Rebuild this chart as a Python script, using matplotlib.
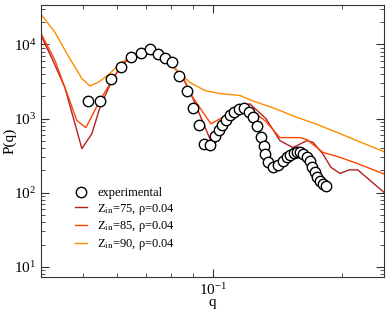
import matplotlib
matplotlib.use("Agg")
import matplotlib.pyplot as plt
from matplotlib.ticker import LogLocator, NullFormatter, LogFormatterSciNotation

plt.rcParams['font.family'] = ['Liberation Serif', 'DejaVu Serif']
plt.rcParams['mathtext.fontset'] = 'stix'

# experimental data
q_exp = [0.05145, 0.0547, 0.0580, 0.0612, 0.0646, 0.0681, 0.0715, 0.0746, 0.0774, 0.0804,
         0.0837, 0.0871, 0.0900, 0.0929, 0.0955, 0.0986, 0.1012, 0.1032, 0.1051, 0.1074,
         0.1097, 0.1121, 0.1151, 0.1182, 0.1215, 0.1241, 0.1268, 0.1299, 0.1316, 0.1327,
         0.1348, 0.1381, 0.1419, 0.1457, 0.1489, 0.1513, 0.1542, 0.1571, 0.1596, 0.1626,
         0.1653, 0.1684, 0.1706, 0.1729, 0.1753, 0.1776, 0.1805, 0.1834]
p_exp = [1751, 1751, 3419, 4966, 6673, 7557, 8557, 7325, 6570, 5712,
         3694, 2389, 1408, 830, 459, 438, 589, 710, 830, 969,
         1115, 1243, 1344, 1386, 1243, 1048, 804, 562, 432, 336,
         262, 225, 235, 270, 300, 325, 343, 355, 350, 331,
         302, 267, 225, 189, 162, 143, 130, 124]

# Z_in = 75
q_75 = [0.0399, 0.04252, 0.04534, 0.04966, 0.0524, 0.05469, 0.05831, 0.06154, 0.0649, 0.06963,
        0.07422, 0.07955, 0.0853, 0.0900, 0.10043, 0.10567, 0.1139, 0.12209, 0.13304, 0.14339,
        0.15374, 0.16569, 0.1711, 0.18049, 0.18838, 0.1977, 0.20749, 0.2176, 0.23339, 0.25028]
p_75 = [13230, 6078, 2624, 393, 627, 1408, 3263, 5284, 6884, 7676,
        7325, 5623, 3526, 1864, 412, 733, 1408, 1580, 1000, 504,
        406, 504, 478, 333, 220, 182, 203, 203, 143, 101]

# Z_in = 85
q_85 = [0.0399, 0.0430, 0.04835, 0.05074, 0.05469, 0.05831, 0.06154, 0.0649, 0.06963, 0.07422,
        0.07955, 0.0853, 0.0900, 0.09909, 0.10624, 0.1139, 0.12014, 0.13232, 0.14339, 0.15959,
        0.16569, 0.18049, 0.1977, 0.21646, 0.25028]
p_85 = [14080, 6078, 940, 756, 1751, 3263, 5452, 7101, 7798, 7486,
        5766, 3614, 1922, 848, 1064, 1408, 1430, 940, 554, 554,
        520, 350, 300, 249, 179]

# Z_in = 90
q_90 = [0.0399, 0.0430, 0.04609, 0.04966, 0.05184, 0.05439, 0.05769, 0.06087, 0.06456, 0.07036,
        0.07541, 0.08216, 0.08855, 0.09596, 0.10399, 0.11575, 0.12342, 0.13962, 0.15539, 0.17293,
        0.1977, 0.21646, 0.25028]
p_90 = [25430, 14530, 7101, 3471, 2749, 3113, 4056, 5537, 6884, 7676,
        6673, 4594, 3065, 2389, 2177, 2046, 1751, 1365, 1064, 856,
        627, 504, 358]

fig = plt.figure(figsize=(3.88, 3.13), dpi=100)
ax = fig.add_axes([0.1057, 0.115, 0.8840, 0.869])

ax.plot(q_exp, p_exp, 'o', mfc='white', mec='black', mew=1.0, ms=7.5, label='experimental', zorder=3)
ax.plot(q_75, p_75, color='#b22222', lw=1.0, label=r'Z$_{\rm in}$=75, ρ=0.04')
ax.plot(q_85, p_85, color='#ff4500', lw=1.0, label=r'Z$_{\rm in}$=85, ρ=0.04')
ax.plot(q_90, p_90, color='#ff8c00', lw=1.0, label=r'Z$_{\rm in}$=90, ρ=0.04')

ax.set_xscale('log')
ax.set_yscale('log')
ax.set_xlim(0.0399, 0.2503)
ax.set_ylim(7.3, 34000)

ax.xaxis.set_major_locator(LogLocator(base=10))
ax.xaxis.set_minor_locator(LogLocator(base=10, subs=range(2, 10)))
ax.xaxis.set_minor_formatter(NullFormatter())
ax.yaxis.set_minor_locator(LogLocator(base=10, subs=range(2, 10)))
ax.yaxis.set_minor_formatter(NullFormatter())
ax.yaxis.set_major_formatter(LogFormatterSciNotation())

ax.tick_params(which='both', direction='in', top=True, right=True, labelsize=11, color='#333333')
ax.tick_params(which='major', length=6)
ax.tick_params(which='minor', length=3)
for s in ax.spines.values():
    s.set_color('#333333')

ax.set_xlabel('q', fontsize=11, labelpad=-1)
ax.set_ylabel('P(q)', fontsize=11, labelpad=-2)

ax.legend(loc='lower left', bbox_to_anchor=(0.065, 0.05), frameon=False, fontsize=9,
          handlelength=1.0, handletextpad=0.8, labelspacing=0.22)

plt.savefig('out.png', dpi=100)
